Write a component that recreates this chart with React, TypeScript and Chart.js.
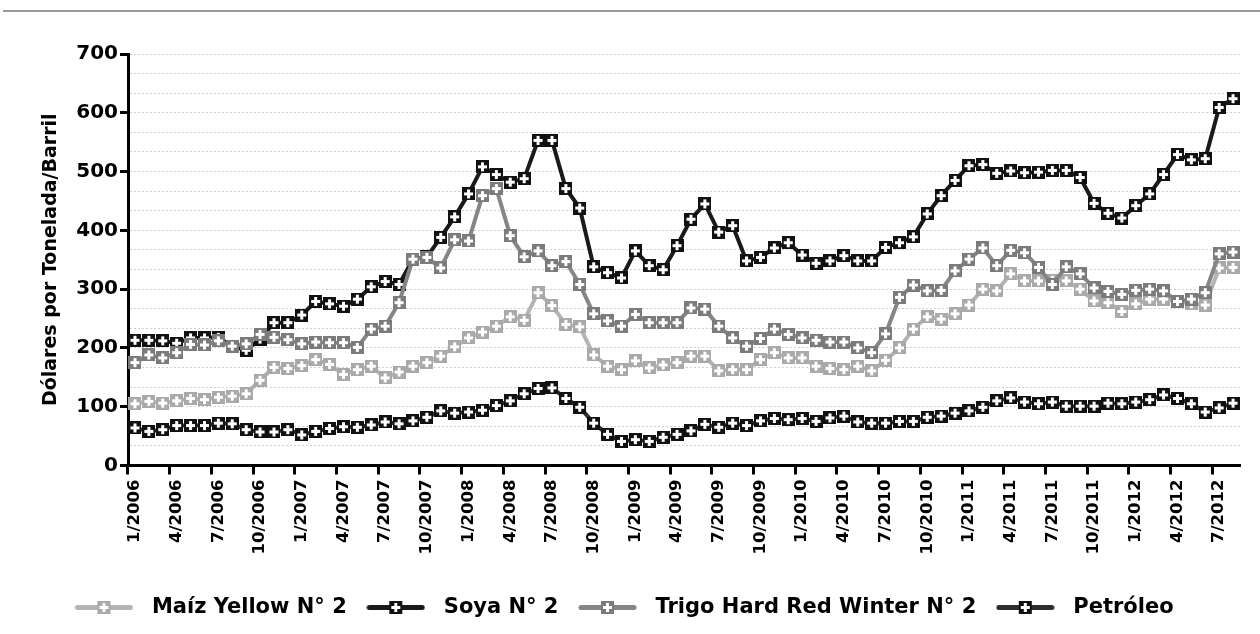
import { useEffect, useRef } from 'react';
import { Chart, registerables } from 'chart.js';

Chart.register(...registerables);

const seriesNames = ['Maíz Yellow N° 2', 'Soya N° 2', 'Trigo Hard Red Winter N° 2', 'Petróleo'];
const yAxisTitle = 'Dólares por Tonelada/Barril';
const firstYear = 2006;

const maiz = [
  105, 109, 106, 110, 114, 112, 116, 118, 122, 145, 167, 165, 170,
  180, 172, 155, 163, 169, 149, 159, 169, 175, 186, 202, 217, 227,
  237, 253, 247, 294, 272, 240, 236, 188, 169, 163, 178, 166, 171,
  175, 186, 186, 161, 163, 163, 180, 192, 183, 183, 169, 165, 163,
  169, 161, 179, 200, 232, 253, 249, 258, 273, 300, 297, 326, 314,
  314, 315, 314, 300, 280, 277, 262, 275, 283, 283, 279, 275, 273, 336, 337,
];
const soya = [
  213, 213, 212, 208, 217, 217, 218, 203, 196, 215, 243, 243, 256,
  279, 275, 271, 283, 304, 313, 308, 351, 355, 388, 423, 462, 508,
  495, 482, 488, 553, 553, 471, 438, 338, 328, 319, 365, 340, 333,
  374, 419, 445, 397, 408, 348, 354, 370, 379, 358, 344, 348, 357,
  348, 348, 371, 379, 389, 428, 459, 485, 510, 512, 497, 501, 498,
  499, 502, 502, 490, 446, 429, 421, 442, 462, 495, 529, 520, 522, 609, 624,
];
const trigo = [
  175, 188, 183, 192, 206, 205, 212, 203, 207, 223, 218, 214, 207,
  210, 209, 209, 201, 232, 237, 277, 351, 354, 336, 384, 382, 459,
  471, 391, 355, 365, 340, 347, 308, 258, 246, 237, 257, 243, 243,
  243, 268, 266, 237, 217, 203, 216, 232, 223, 217, 213, 210, 210,
  200, 192, 224, 286, 307, 297, 298, 331, 351, 370, 340, 366, 362,
  337, 308, 338, 326, 302, 296, 291, 298, 300, 297, 279, 283, 294, 360, 363,
];
const petroleo = [
  64, 58, 61, 68, 68, 68, 72, 71, 61, 57, 57, 61, 52,
  58, 63, 66, 65, 69, 74, 71, 76, 82, 93, 89, 91, 94,
  102, 110, 122, 131, 132, 114, 99, 72, 53, 41, 44, 41, 48,
  53, 59, 70, 65, 72, 68, 76, 80, 78, 80, 75, 81, 84,
  74, 72, 72, 75, 75, 82, 84, 89, 93, 99, 110, 115, 108,
  105, 108, 101, 101, 101, 106, 105, 108, 112, 120, 114, 105, 91, 98, 106,
];

const lineColors = ['#b4b4b4', '#1a1a1a', '#868686', '#2e2e2e'];
const markerColors = ['#a9a9a9', '#111111', '#7b7b7b', '#111111'];
const drawOrder = [4, 3, 2, 1];

const yMin = 0;
const yMax = 700;
const yMajorStep = 100;
const yMinorPerMajor = 3;

function makeMonthLabels(n: number): string[] {
  const out: string[] = [];
  for (let i = 0; i < n; i++) {
    out.push(`${(i % 12) + 1}/${firstYear + Math.floor(i / 12)}`);
  }
  return out;
}

function makeMarker(color: string): HTMLCanvasElement {
  const c = document.createElement('canvas');
  c.width = 13;
  c.height = 13;
  const g = c.getContext('2d')!;
  g.fillStyle = color;
  g.fillRect(0, 0, 13, 13);
  g.fillStyle = '#ffffff';
  g.fillRect(2, 5, 9, 3);
  g.fillRect(5, 2, 3, 9);
  return c;
}

function makeLegendSample(lineColor: string, markerColor: string): HTMLCanvasElement {
  const c = document.createElement('canvas');
  c.width = 59;
  c.height = 13;
  const g = c.getContext('2d')!;
  g.strokeStyle = lineColor;
  g.lineWidth = 5;
  g.lineCap = 'round';
  g.beginPath();
  g.moveTo(3, 6.5);
  g.lineTo(56, 6.5);
  g.stroke();
  g.drawImage(makeMarker(markerColor), 23, 0);
  return c;
}

export default function App() {
  const canvasRef = useRef<HTMLCanvasElement | null>(null);

  useEffect(() => {
    if (!canvasRef.current) return;
    const labels = makeMonthLabels(maiz.length);
    const series = [maiz, soya, trigo, petroleo];
    const markers = markerColors.map((c) => makeMarker(c));
    const samples = lineColors.map((c, i) => makeLegendSample(c, markerColors[i]));
    const yTickValues: number[] = [];
    const nMinor = ((yMax - yMin) / yMajorStep) * yMinorPerMajor;
    for (let k = 0; k <= nMinor; k++) yTickValues.push(yMin + (k * yMajorStep) / yMinorPerMajor);

    const chart = new Chart(canvasRef.current, {
      type: 'line',
      data: {
        labels,
        datasets: series.map((d, i) => ({
          label: seriesNames[i],
          data: d,
          borderColor: lineColors[i],
          backgroundColor: lineColors[i],
          borderWidth: 4,
          borderJoinStyle: 'round' as const,
          pointStyle: markers[i],
          pointRadius: 6,
          pointHoverRadius: 6,
          tension: 0,
          fill: false,
          order: drawOrder[i],
        })),
      },
      options: {
        animation: false,
        responsive: true,
        maintainAspectRatio: false,
        devicePixelRatio: 1,
        layout: { padding: { left: 0, right: 20, top: 54, bottom: 6 } },
        plugins: {
          tooltip: { enabled: false },
          legend: {
            position: 'bottom',
            labels: {
              usePointStyle: true,
              pointStyleWidth: 75,
              boxHeight: 21,
              padding: 11.5,
              color: '#000',
              font: { family: 'DejaVu Sans', weight: 'bold', size: 21 },
              generateLabels: () =>
                seriesNames.map((n, i) => ({
                  text: n,
                  pointStyle: samples[i],
                  fillStyle: lineColors[i],
                  strokeStyle: lineColors[i],
                  lineWidth: 0,
                  hidden: false,
                  datasetIndex: i,
                  fontColor: '#000',
                })),
            },
          },
        },
        scales: {
          x: {
            type: 'category',
            offset: true,
            afterFit: (s: any) => {
              s.height = 120;
            },
            grid: {
              offset: true,
              drawOnChartArea: false,
              drawTicks: true,
              tickLength: 9,
              tickWidth: 3,
              color: 'rgba(0,0,0,0)',
              tickColor: (ctx: any) => (ctx.index % 3 === 0 ? '#000' : 'rgba(0,0,0,0)'),
            },
            border: { display: true, color: '#000', width: 3 },
            ticks: {
              autoSkip: false,
              minRotation: 90,
              maxRotation: 90,
              padding: 5,
              color: '#000',
              font: { family: 'DejaVu Sans', weight: 'bold', size: 16.5 },
              callback: function (this: any, value: any, index: number) {
                return index % 3 === 0 ? this.getLabelForValue(value) : '';
              },
            },
          },
          y: {
            type: 'linear',
            min: yMin,
            max: yMax,
            afterFit: (s: any) => {
              s.width = 128;
            },
            afterBuildTicks: (s: any) => {
              s.ticks = yTickValues.map((v) => ({ value: v }));
            },
            grid: {
              drawOnChartArea: true,
              drawTicks: true,
              tickLength: 8,
              tickWidth: 3,
              lineWidth: 1,
              color: '#d0d0d0',
              tickColor: (ctx: any) => (ctx.index % yMinorPerMajor === 0 ? '#000' : 'rgba(0,0,0,0)'),
            },
            border: { display: true, color: '#000', width: 3, dash: [2, 2] },
            ticks: {
              autoSkip: false,
              padding: 2,
              color: '#000',
              font: { family: 'DejaVu Sans', weight: 'bold', size: 20 },
              callback: (value: any, index: number) =>
                index % yMinorPerMajor === 0 ? String(Math.round(Number(value))) : '',
            },
            title: {
              display: true,
              text: yAxisTitle,
              color: '#000',
              font: { family: 'DejaVu Sans', weight: 'bold', size: 19 },
              padding: { top: 40, bottom: 0 },
            },
          },
        },
      },
    });
    return () => chart.destroy();
  }, []);

  return (
    <div style={{ position: 'fixed', left: 0, top: 0, width: 1260, height: 634, background: '#fff' }}>
      <div style={{ position: 'absolute', left: 3, right: 0, top: 10, height: 2, background: '#9a9a9a' }} />
      <canvas ref={canvasRef} style={{ display: 'block' }} />
    </div>
  );
}
